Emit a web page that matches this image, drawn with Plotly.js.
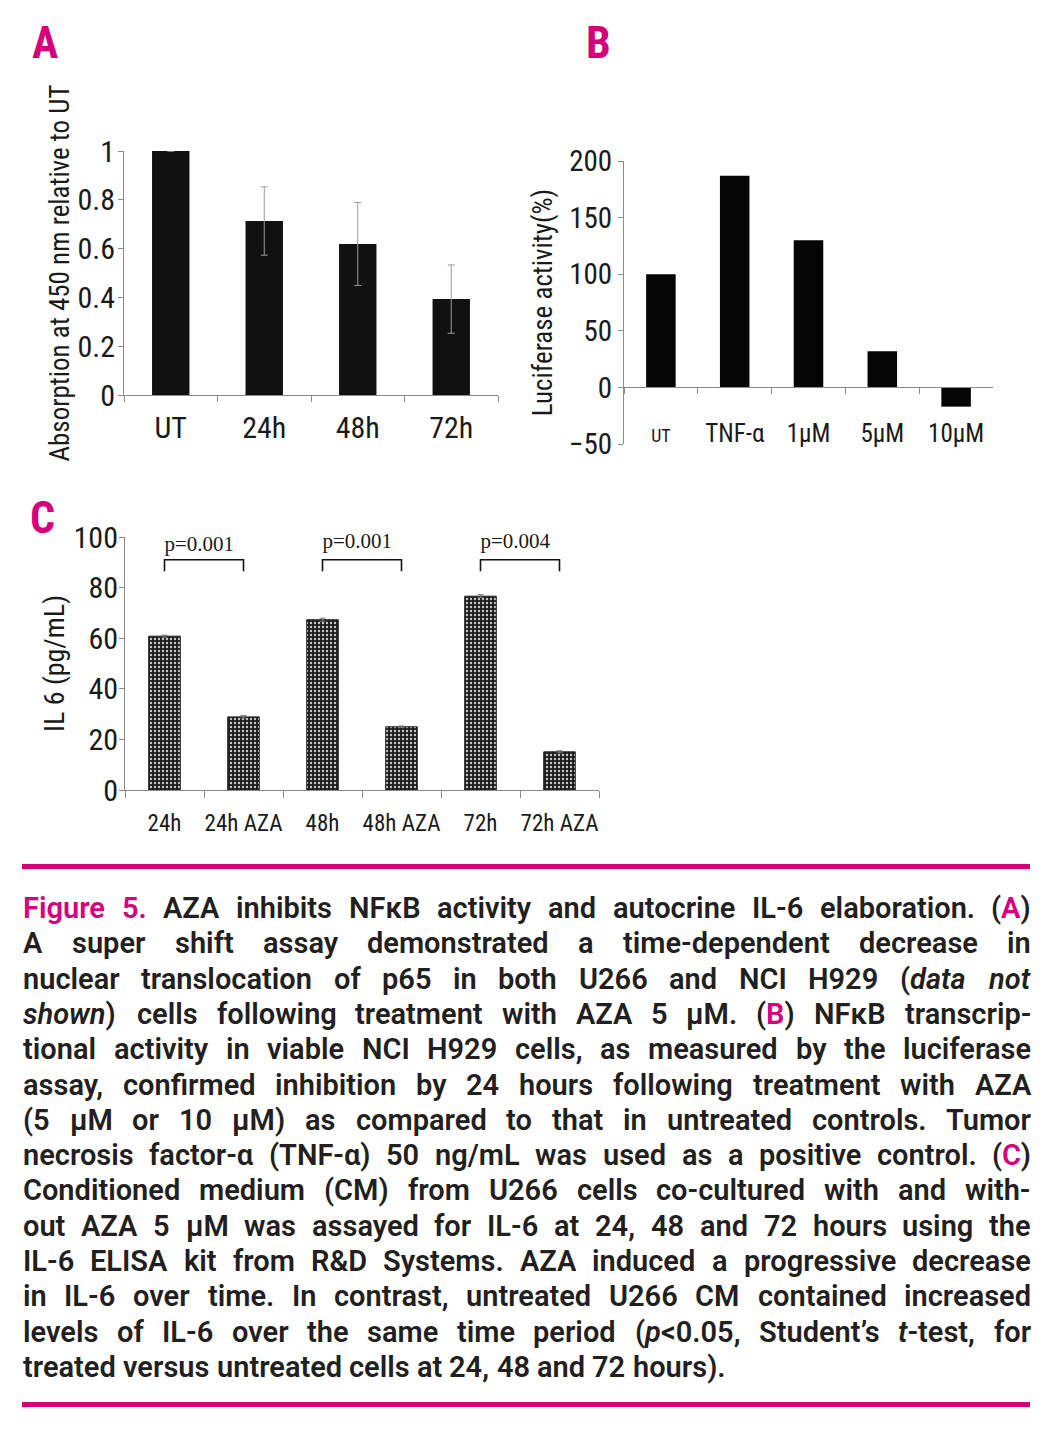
<!DOCTYPE html>
<html><head><meta charset="utf-8">
<script src="https://cdn.plot.ly/plotly-3.0.1.min.js"></script>
<style>body{margin:0;background:#fff}#chart{width:1062px;height:1439px}</style>
</head><body><div id="chart"></div>
<script>
// ---------------- data ----------------
const catsA = ["UT", "24h", "48h", "72h"];
const valsA = [1.0, 0.713, 0.619, 0.393];
const errA  = [0, 0.14, 0.17, 0.14];

const catsB = ["UT", "TNF-α", "1μM", "5μM", "10μM"];
const valsB = [100, 187, 130, 32, -17];

const catsC = ["24h", "24h AZA", "48h", "48h AZA", "72h", "72h AZA"];
const valsC = [60.8, 28.9, 67.3, 25.0, 76.6, 15.1];
const errC  = [0.4, 0.5, 0.6, 0.3, 0.6, 0.4];

const pPairs  = [["24h", "24h AZA"], ["48h", "48h AZA"], ["72h", "72h AZA"]];
const pLabels = ["p=0.001", "p=0.001", "p=0.004"];
const pTop    = [91, 91, 91];
const pLeg    = [86.5, 86.5, 86.5];
const pTextY  = [96.6, 97.6, 97.6];

const titleA = "Absorption at 450 nm relative to UT";
const titleB = "Luciferase activity(%)";
const titleC = "IL 6 (pg/mL)";

// *x* = magenta, _x_ = italic
const captionLines = [
  "*Figure* *5.* AZA inhibits NFκB activity and autocrine IL-6 elaboration. (*A*)",
  "A super shift assay demonstrated a time-dependent decrease in",
  "nuclear translocation of p65 in both U266 and NCI H929 (_data_ _not_",
  "_shown_) cells following treatment with AZA 5 μM. (*B*) NFκB transcrip-",
  "tional activity in viable NCI H929 cells, as measured by the luciferase",
  "assay, confirmed inhibition by 24 hours following treatment with AZA",
  "(5 μM or 10 μM) as compared to that in untreated controls. Tumor",
  "necrosis factor-α (TNF-α) 50 ng/mL was used as a positive control. (*C*)",
  "Conditioned medium (CM) from U266 cells co-cultured with and with-",
  "out AZA 5 μM was assayed for IL-6 at 24, 48 and 72 hours using the",
  "IL-6 ELISA kit from R&D Systems. AZA induced a progressive decrease",
  "in IL-6 over time. In contrast, untreated U266 CM contained increased",
  "levels of IL-6 over the same time period (_p_<0.05, Student’s _t_-test, for",
  "treated versus untreated cells at 24, 48 and 72 hours)."
];

// ---------------- layout helpers ----------------
const W = 1062, H = 1439;
const fx = x => x / W;
const fy = y => 1 - y / H;
const MAG = "#d4007c";
const NARROW = '"Liberation Sans Narrow", "Roboto Condensed", "Noto Sans Condensed", "DejaVu Sans Condensed", sans-serif';
const CAPFAM = 'Roboto, "Liberation Sans", sans-serif';
const SERIF = '"Liberation Serif", "DejaVu Serif", serif';
const AX = "#8a8a8a";

const domA = {x: [fx(124), fx(498)], y: [fy(395), fy(151)]};
const domB = {x: [fx(624), fx(993)], y: [fy(444), fy(161)]};
const domC = {x: [fx(125), fx(599)], y: [fy(790), fy(537)]};
const rangeA = [0, 1], rangeB = [-50, 200], rangeC = [0, 100];
const zeroPosB = domB.y[0] + (0 - rangeB[0]) / (rangeB[1] - rangeB[0]) * (domB.y[1] - domB.y[0]);

function yax(dom, range, dtick, anchor, tickSize, title, titleSize, standoff, lblOff) {
  return {domain: dom, range: range, dtick: dtick, tick0: 0, anchor: anchor,
    showline: true, linecolor: AX, linewidth: 1, ticks: "outside", ticklen: 5, tickcolor: AX,
    showgrid: false, zeroline: false, fixedrange: true, automargin: "left",
    ticklabelstandoff: lblOff,
    tickfont: {family: NARROW, size: tickSize, color: "#1a1a1a"},
    title: {text: title, standoff: standoff, font: {family: NARROW, size: titleSize, color: "#1a1a1a"}}};
}
function xax(dom, anchor, tickSize, extra) {
  return Object.assign({domain: dom, anchor: anchor, type: "category", tickangle: 0,
    showline: true, linecolor: AX, linewidth: 1, ticks: "outside", ticklen: 6, tickcolor: AX,
    tickson: "boundaries", showgrid: false, zeroline: false, fixedrange: true, automargin: false,
    tickfont: {family: NARROW, size: tickSize, color: "#1a1a1a"}}, extra || {});
}

// ---------------- traces ----------------
const traces = [];
traces.push({type: "bar", x: catsA, y: valsA, xaxis: "x", yaxis: "y", width: 0.4,
  marker: {color: "#111111", line: {width: 0}},
  error_y: {type: "data", array: errA, visible: true, color: "#9a9a9a", thickness: 1, width: 3.5}});
traces.push({type: "bar", x: catsB, y: valsB, xaxis: "x2", yaxis: "y2", width: 0.4,
  marker: {color: "#050505", line: {width: 0}}});
traces.push({type: "bar", x: catsC, y: valsC, xaxis: "x3", yaxis: "y3", width: 0.4,
  marker: {color: "#1c1c1c", line: {width: 1, color: "#222"},
    pattern: {shape: ".", bgcolor: "#1c1c1c", fgcolor: "#c8c8c8", size: 4, solidity: 0.28}},
  error_y: {type: "data", array: errC, visible: true, color: "#777", thickness: 1, width: 3}});
pPairs.forEach((pr, i) => {
  traces.push({type: "scatter", mode: "lines", xaxis: "x3", yaxis: "y3",
    x: [pr[0], pr[0], pr[1], pr[1]], y: [pLeg[i], pTop[i], pTop[i], pLeg[i]],
    line: {color: "#111", width: 1.6}, hoverinfo: "skip", cliponaxis: false});
  traces.push({type: "scatter", mode: "text", xaxis: "x3", yaxis: "y3", cliponaxis: false,
    x: [pr[0]], y: [pTextY[i]], text: [pLabels[i]], textposition: "middle right",
    textfont: {family: SERIF, size: 21, color: "#1a1a1a"}, hoverinfo: "skip"});
});

// ---------------- annotations ----------------
const annotations = [];
[["A", 45, 43], ["B", 598, 43], ["C", 42, 518]].forEach(l => {
  annotations.push({text: l[0], xref: "paper", yref: "paper", x: fx(l[1]), y: fy(l[2]),
    xanchor: "center", yanchor: "middle", showarrow: false,
    font: {family: NARROW, size: 44, color: MAG, weight: "bold"}});
});

// caption, justified word by word (font size fitted to the column width)
const CAP_WEIGHT = 600;
const L = 23, R = 1031, Y0 = 908, DY = 35.3;
const ctx = document.createElement("canvas").getContext("2d");
ctx.font = CAP_WEIGHT + " 28px " + CAPFAM;
const natural = captionLines.slice(0, -1).map(l => ctx.measureText(l.replace(/[*_]/g, "")).width);
const CAP_SIZE = Math.round(Math.min(29, 28 * (R - L) / Math.max(...natural) * 0.995) * 10) / 10;
ctx.font = CAP_WEIGHT + " " + CAP_SIZE + "px " + CAPFAM;
const esc = s => s.replace(/&/g, "&amp;").replace(/</g, "&lt;");
captionLines.forEach((line, li) => {
  const words = line.split(" ");
  const plain = words.map(w => w.replace(/[*_]/g, ""));
  const widths = plain.map(p => ctx.measureText(p).width);
  const total = widths.reduce((a, b) => a + b, 0);
  const last = li === captionLines.length - 1;
  const gap = last ? ctx.measureText(" ").width : (R - L - total) / (words.length - 1);
  let x = L;
  words.forEach((w, wi) => {
    const html = esc(w).replace(/\*([^*]+)\*/g, '<span style="color:' + MAG + '">$1</span>')
                       .replace(/_([^_]+)_/g, "<i>$1</i>");
    annotations.push({text: html, xref: "paper", yref: "paper", x: fx(x), y: fy(Y0 + li * DY),
      xanchor: "left", yanchor: "middle", showarrow: false, borderpad: 0, borderwidth: 0,
      font: {family: CAPFAM, size: CAP_SIZE, color: "#231f20", weight: CAP_WEIGHT}});
    x += widths[wi] + gap;
  });
});

const shapes = [866.5, 1404.5].map(y => ({type: "line", xref: "paper", yref: "paper",
  x0: fx(22), x1: fx(1030), y0: fy(y), y1: fy(y), line: {color: MAG, width: 5}}));

const layout = {
  width: W, height: H, margin: {l: 0, r: 0, t: 0, b: 0, autoexpand: false},
  paper_bgcolor: "#fff", plot_bgcolor: "rgba(0,0,0,0)", showlegend: false,
  font: {family: NARROW, color: "#1a1a1a"},
  xaxis: xax(domA.x, "y", 30, {ticklabelstandoff: 6}),
  yaxis: yax(domA.y, rangeA, 0.2, "x", 30, titleA, 27, 0, -3),
  xaxis2: xax(domB.x, "free", 25, {position: zeroPosB, ticklabelstandoff: 24,
    tickvals: catsB, ticktext: catsB.map(c => c === "UT" ? '<span style="font-size:18px">UT</span>' : c)}),
  yaxis2: yax(domB.y, rangeB, 50, "x2", 29, titleB, 27, 8, 0),
  xaxis3: xax(domC.x, "y3", 23, {ticklabelstandoff: 12, ticklen: 7}),
  yaxis3: yax(domC.y, rangeC, 20, "x3", 30, titleC, 28, 0, -5),
  annotations: annotations, shapes: shapes
};

Plotly.newPlot("chart", traces, layout, {staticPlot: true, displayModeBar: false});
</script></body></html>
